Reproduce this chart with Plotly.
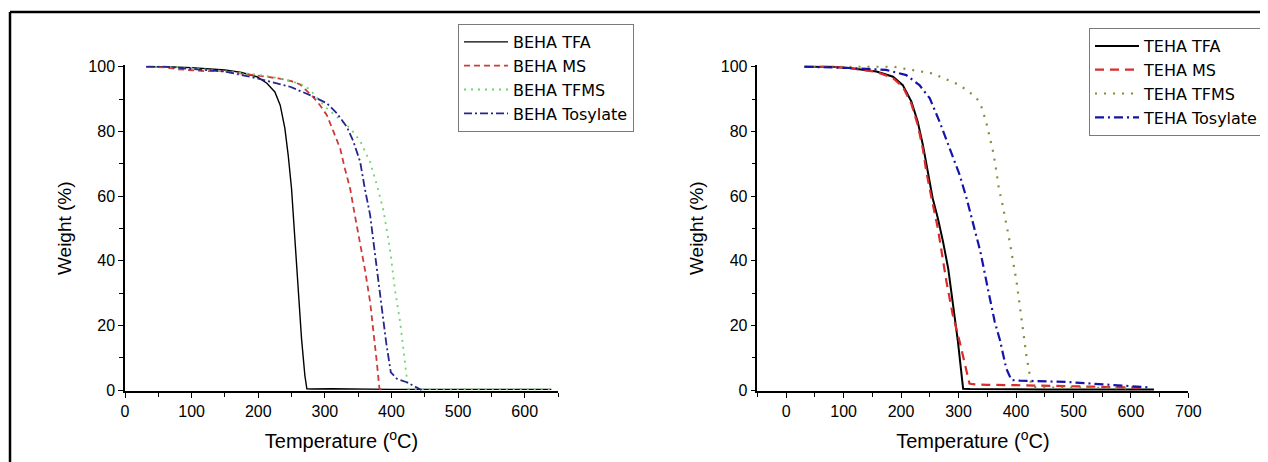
import plotly.graph_objects as go

# ---------------- data: left panel (BEHA) ----------------
beha_tfa_x = [32, 60, 100, 150, 175, 198, 213, 225, 233, 240, 245, 250, 255, 260, 265, 270, 273, 280, 310, 400, 500, 640]
beha_tfa_y = [100, 100, 99.7, 99.0, 98.2, 96.9, 94.9, 92.2, 88.1, 80.9, 72.6, 62.3, 46.8, 31.3, 15.9, 4.5, 0.4, 0.3, 0.4, 0.2, 0.2, 0.2]

beha_ms_x = [35, 60, 80, 100, 120, 140, 160, 200, 230, 250, 263, 273, 283, 293, 303, 313, 323, 330, 338, 345, 353, 360, 368, 374, 378, 382, 385]
beha_ms_y = [100, 99.8, 99.2, 99.0, 98.6, 98.8, 98.3, 97.3, 96.4, 95.5, 94.5, 92.5, 90.5, 88.0, 85.0, 79.9, 74.7, 68.5, 62.3, 54.1, 45.8, 37.5, 27.2, 16.9, 8.6, 0.4, 0.0]

beha_tfms_x = [35, 60, 100, 150, 200, 230, 250, 268, 278, 290, 303, 318, 338, 353, 368, 378, 388, 395, 399, 405, 413, 419, 425, 430, 500, 640]
beha_tfms_y = [100, 100, 99.6, 98.6, 97.5, 96.5, 95.5, 94.3, 92.8, 90.0, 87.1, 84.5, 81.0, 77.0, 70.5, 63.5, 55.5, 47.0, 41.7, 31.3, 21.0, 10.7, 0.4, 0.2, 0.2, 0.2]

beha_tos_x = [32, 60, 100, 150, 190, 220, 248, 280, 303, 318, 333, 343, 353, 360, 368, 373, 379, 385, 392, 399, 408, 423, 440, 445]
beha_tos_y = [100, 100, 99.3, 98.5, 96.8, 95.2, 93.8, 91.0, 88.7, 85.6, 81.4, 76.8, 70.6, 62.3, 54.1, 45.8, 35.5, 25.2, 14.8, 5.5, 3.5, 2.4, 0.4, 0.0]

# ---------------- data: right panel (TEHA) ----------------
teha_tfa_x = [32, 80, 110, 157, 186, 203, 218, 229, 238, 247, 255, 264, 273, 282, 290, 299, 308, 320, 450, 640]
teha_tfa_y = [100, 100, 99.6, 98.5, 96.9, 94.3, 89.2, 83.0, 75.8, 67.5, 59.3, 53.1, 45.9, 37.6, 27.3, 14.9, 0.4, 0.3, 0.2, 0.2]

teha_ms_x = [32, 80, 110, 157, 186, 203, 218, 229, 238, 244, 254, 264, 279, 290, 302, 311, 319, 325, 350, 400, 430, 470, 517, 575, 604, 625]
teha_ms_y = [100, 100, 99.6, 98.4, 96.5, 93.8, 88.5, 82.0, 74.5, 67.5, 58.5, 50.0, 33.5, 23.2, 14.9, 7.7, 2.0, 1.8, 1.6, 1.5, 1.4, 1.3, 1.2, 1.0, 0.8, 0.5]

teha_tfms_x = [32, 100, 186, 255, 302, 331, 340, 348, 355, 361, 366, 370, 377, 389, 401, 410, 418, 424, 427, 440, 500, 550, 600]
teha_tfms_y = [100, 100, 100, 97.9, 94.3, 90.5, 87.5, 83.0, 78.0, 73.0, 67.5, 62.5, 57.0, 45.9, 33.5, 21.1, 10.8, 4.6, 1.0, 0.8, 0.8, 0.7, 0.5]

teha_tos_x = [32, 110, 174, 209, 232, 250, 267, 285, 302, 314, 328, 338, 352, 363, 372, 383, 392, 407, 488, 546, 604, 633]
teha_tos_y = [100, 99.6, 99.0, 97.4, 94.3, 90.2, 83.0, 74.8, 66.5, 59.3, 50.0, 42.8, 30.5, 21.1, 15.5, 6.7, 3.1, 2.9, 2.5, 1.9, 1.2, 0.8]

left_names = ["BEHA TFA", "BEHA MS", "BEHA TFMS", "BEHA Tosylate"]
right_names = ["TEHA TFA", "TEHA MS", "TEHA TFMS", "TEHA Tosylate"]

FONT = "Liberation Sans, Arial, sans-serif"
LEGFONT = "DejaVu Sans, Liberation Sans, Arial, sans-serif"

fig = go.Figure()

left_series = [
    (beha_tfa_x, beha_tfa_y, dict(color="#000000", width=1.4, dash="solid")),
    (beha_ms_x, beha_ms_y, dict(color="#d03a3a", width=1.8, dash="6px,4px")),
    (beha_tfms_x, beha_tfms_y, dict(color="#6fd46f", width=1.8, dash="2px,5px")),
    (beha_tos_x, beha_tos_y, dict(color="#26268c", width=1.8, dash="8px,3px,2px,3px")),
]
for (xs, ys, ln), name in zip(left_series, left_names):
    fig.add_trace(go.Scatter(x=xs, y=ys, mode="lines", name=name, line=ln,
                             xaxis="x", yaxis="y", legend="legend"))

right_series = [
    (teha_tfa_x, teha_tfa_y, dict(color="#000000", width=2, dash="solid")),
    (teha_ms_x, teha_ms_y, dict(color="#dd2a2a", width=2.2, dash="9px,6px")),
    (teha_tfms_x, teha_tfms_y, dict(color="#8a8a3a", width=2.2, dash="2px,7px")),
    (teha_tos_x, teha_tos_y, dict(color="#1414a8", width=2.2, dash="9px,4px,2px,4px")),
]
for (xs, ys, ln), name in zip(right_series, right_names):
    fig.add_trace(go.Scatter(x=xs, y=ys, mode="lines", name=name, line=ln,
                             xaxis="x2", yaxis="y2", legend="legend2"))

# page body has an 8px margin: figure is drawn 8px in from the window corner
OFF = 8
W, H = 1268 - OFF, 462 - OFF

def px_x(p):
    return (p - OFF) / W

def px_y(p):
    return 1 - (p - OFF) / H

ydom = [px_y(391), px_y(65.4)]

def xax(domain, rng, anchor):
    return dict(domain=domain, range=rng, anchor=anchor, tick0=0, dtick=100,
                automargin=False,
                ticks="outside", ticklen=5, tickwidth=1.3, tickcolor="black",
                showline=True, linecolor="black", linewidth=1.5,
                showgrid=False, zeroline=False,
                minor=dict(dtick=50, ticks="outside", ticklen=4, tickwidth=1.3, tickcolor="black"),
                tickfont=dict(size=16, color="black", family=FONT),
                title=dict(text="Temperature (<sup>o</sup>C)", font=dict(size=20, color="black", family=FONT), standoff=15))

def yax(domain, anchor):
    return dict(domain=domain, range=[-0.3, 100.4], anchor=anchor, tick0=0, dtick=20,
                automargin=False,
                ticks="outside", ticklen=5, tickwidth=1.3, tickcolor="black",
                showline=True, linecolor="black", linewidth=1.5,
                showgrid=False, zeroline=False,
                minor=dict(dtick=10, ticks="outside", ticklen=4, tickwidth=1.3, tickcolor="black"),
                tickfont=dict(size=16, color="black", family=FONT),
                title=dict(text="Weight (%)", font=dict(size=19, color="black", family=FONT), standoff=12))

legend_common = dict(bgcolor="white", bordercolor="#7a7a7a", borderwidth=1,
                     font=dict(size=16, color="black", family=LEGFONT),
                     xanchor="right", yanchor="top", tracegroupgap=0,
                     itemwidth=44, entrywidth=130)

fig.update_layout(
    width=W, height=H,
    margin=dict(l=0, r=0, t=0, b=0, autoexpand=False),
    paper_bgcolor="white", plot_bgcolor="white",
    font=dict(family=FONT, color="black"),
    xaxis=xax([px_x(125), px_x(558)], [0, 650], "y"),
    yaxis=yax(ydom, "x"),
    xaxis2=xax([px_x(757.4), px_x(1188.4)], [-50, 700], "y2"),
    yaxis2=yax(ydom, "x2"),
    legend=dict(x=px_x(634), y=px_y(24), **legend_common),
    legend2=dict(x=px_x(1264), y=px_y(28), **legend_common),
    shapes=[
        dict(type="line", xref="paper", yref="paper", x0=px_x(10), x1=1, y0=px_y(12), y1=px_y(12),
             line=dict(color="black", width=2.5)),
        dict(type="line", xref="paper", yref="paper", x0=px_x(10), x1=px_x(10), y0=0, y1=px_y(12),
             line=dict(color="black", width=2.5)),
    ],
)

fig.write_html("out.html")
